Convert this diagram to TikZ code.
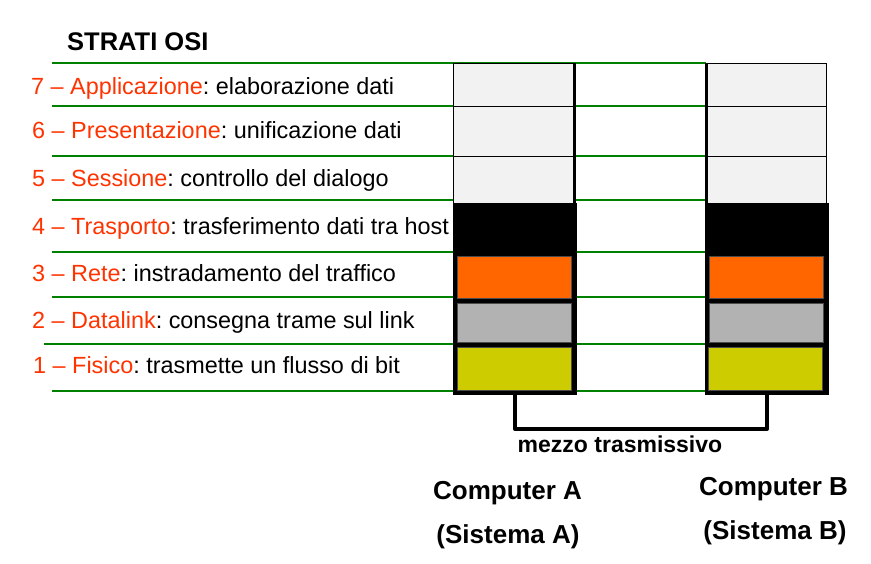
\documentclass[tikz,border=0pt]{standalone}
\usepackage{fontspec}
\setmainfont{Liberation Sans}
\usepackage{tikz}
\usetikzlibrary{positioning}
\frenchspacing
\definecolor{verdelinea}{HTML}{008000}
\definecolor{rossostrato}{HTML}{FF3300}
\definecolor{grigino}{HTML}{F2F2F2}
\definecolor{arancio}{HTML}{FF6600}
\definecolor{grigio}{HTML}{B2B2B2}
\definecolor{giallo}{HTML}{CCCC00}
\tikzset{
  separatore/.style={
    draw = verdelinea,
    line width = 2pt
  },
  cella/.style={
    shape = rectangle,
    draw,
    fill = grigino,
    line width = 1.2pt,
    minimum width = 120pt,
    inner sep = 0pt,
    anchor = north west
  },
  blocco/.style={
    shape = rectangle,
    draw,
    fill = black,
    line width = 3pt,
    minimum width = 121pt,
    minimum height = 189pt,
    inner sep = 0pt,
    anchor = north west
  },
  inserto/.style={
    shape = rectangle,
    draw = black!70,
    line width = 1pt,
    minimum width = 114pt,
    inner sep = 0pt,
    anchor = north west
  },
  strato/.style={
    anchor = base west,
    inner sep = 0pt,
    font = \fontsize{23.4}{27}\selectfont
  },
  titolo/.style={
    anchor = base,
    inner sep = 0pt,
    font = \fontsize{26}{30}\selectfont\bfseries
  },
  mezzo/.style={
    line width = 4pt,
    line join = round
  }
}

\begin{document}
\begin{tikzpicture}[x=1pt, y=-1pt]
        \useasboundingbox (0,0) rectangle (871,563);
        % linee di separazione tra gli strati
        \foreach \yy in {63,106,156,200,252,297,391}
            \draw[separatore] (52,\yy) -- (706,\yy);
        \draw[separatore] (44,344) -- (706,344);
        \node[titolo, anchor=base west, font=\fontsize{25.5}{30}\selectfont\bfseries] (strati) at (67,50) {STRATI OSI};
        \node[strato] (l7) at (31,94) {\textcolor{rossostrato}{7 – Applicazione}: elaborazione dati};
        \node[strato] (l6) at (32,138) {\textcolor{rossostrato}{6 – Presentazione}: unificazione dati};
        \node[strato] (l5) at (32,186) {\textcolor{rossostrato}{5 – Sessione}: controllo del dialogo};
        \node[strato] (l4) at (32,234) {\textcolor{rossostrato}{4 – Trasporto}: trasferimento dati tra host};
        \node[strato] (l3) at (32,281) {\textcolor{rossostrato}{3 – Rete}: instradamento del traffico};
        \node[strato] (l2) at (32,328) {\textcolor{rossostrato}{2 – Datalink}: consegna trame sul link};
        \node[strato] (l1) at (33,373) {\textcolor{rossostrato}{1 – Fisico}: trasmette un flusso di bit};
        % pila del computer A
        \node[cella, minimum height=43pt] (a7) at (453,63) {};
        \node[cella, minimum height=50pt] (a6) at (453,106) {};
        \node[cella, minimum height=47pt] (a5) at (453,156) {};
        \node[blocco] (sottoA) at (453,203) {};
        \node[inserto, fill=arancio, minimum height=42pt] (a3) at (457,256) {};
        \node[inserto, fill=grigio, minimum height=39pt] (a2) at (457,303) {};
        \node[inserto, fill=giallo, minimum height=43pt] (a1) at (457,347) {};
        \draw[line width=3pt] (a7.north east) -- (a5.south east);
        % pila del computer B
        \node[cella, minimum height=43pt] (b7) at (706,63) {};
        \node[cella, minimum height=50pt] (b6) at (706,106) {};
        \node[cella, minimum height=47pt] (b5) at (706,156) {};
        \node[blocco] (sottoB) at (705,203) {};
        \node[inserto, fill=arancio, minimum height=42pt] (b3) at (709,256) {};
        \node[inserto, fill=grigio, minimum height=39pt] (b2) at (709,303) {};
        \node[inserto, fill=giallo, minimum height=43pt] (b1) at (708,347) {};
        \draw[line width=3pt] (b7.north west) -- (b5.south west);
        % mezzo trasmissivo
        \coordinate (fondo) at (640,429);
        \draw[mezzo] (sottoA.south) |- (fondo) -| (sottoB.south);
        \node[titolo, font=\fontsize{23}{27}\selectfont\bfseries] (mezzotx) at (620,452) {mezzo trasmissivo};
        \node[titolo] (compA) at (507.5,499) {Computer A};
        \node[titolo] (sistA) at (508,543) {(Sistema A)};
        \node[titolo] (compB) at (773.5,495) {Computer B};
        \node[titolo] (sistB) at (775,539) {(Sistema B)};
    \end{tikzpicture}
\end{document}
